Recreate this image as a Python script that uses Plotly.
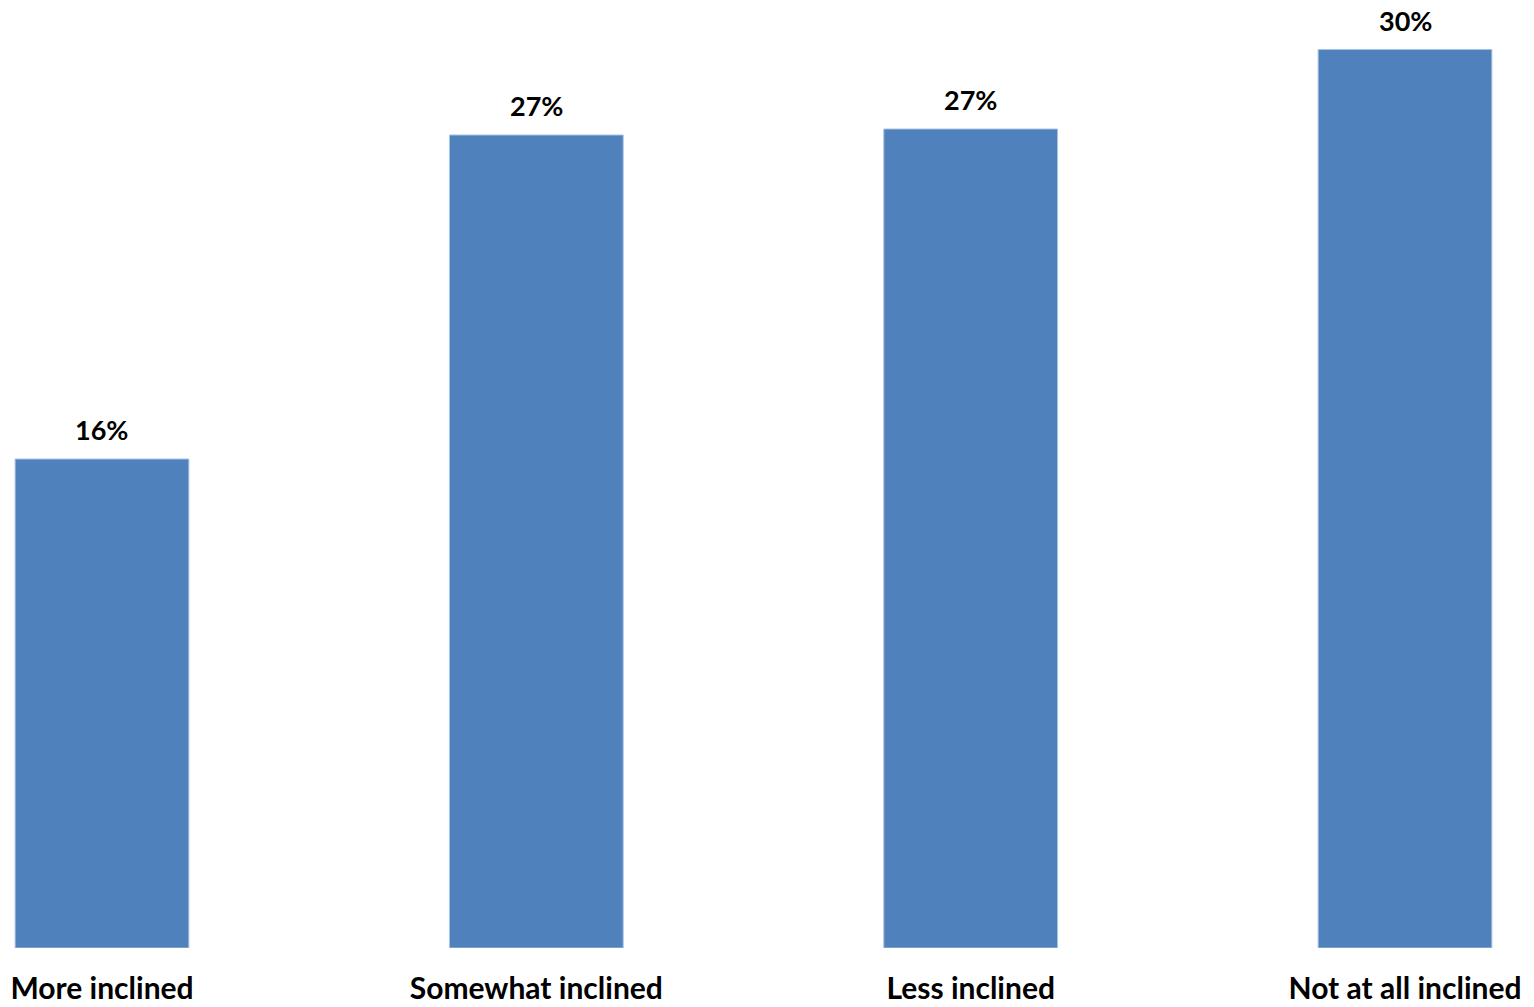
import plotly.graph_objects as go

categories = ["More inclined", "Somewhat inclined", "Less inclined", "Not at all inclined"]
values = [16.3, 27.1, 27.3, 29.95]
labels = ["16%", "27%", "27%", "30%"]

BAR_COLOR = "#4F81BD"
FONT = "Lato"

fig = go.Figure()
fig.add_trace(go.Bar(
    x=categories, y=values, width=0.4,
    marker=dict(color=BAR_COLOR, line=dict(color="#A9C2E0", width=1)),
    hoverinfo="skip",
))
for c, v, t in zip(categories, values, labels):
    fig.add_annotation(x=c, y=v, text=f"<b>{t}</b>", showarrow=False,
                       yanchor="bottom", yshift=11,
                       font=dict(family=FONT, size=27, color="black"))

fig.update_layout(
    width=1526, height=999,
    margin=dict(l=0, r=0, t=0, b=59, pad=0),
    paper_bgcolor="white", plot_bgcolor="white",
    showlegend=False,
    xaxis=dict(range=[-0.2164, 3.297], showgrid=False, zeroline=False,
               showline=False, ticks="",
               tickfont=dict(family=FONT, size=30, color="black"),
               ticklabelstandoff=20),
    yaxis=dict(range=[0, 940 / 30], visible=False),
)
fig.update_xaxes(tickvals=categories, ticktext=[f"<b>{c}</b>" for c in categories])
fig.write_html("out.html")
